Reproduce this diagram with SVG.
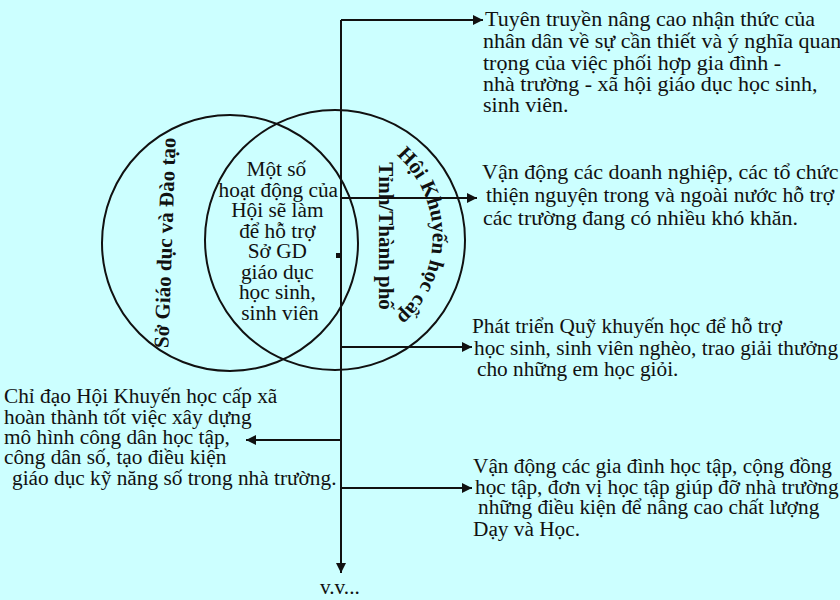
<svg xmlns="http://www.w3.org/2000/svg" width="840" height="600" viewBox="0 0 840 600">
<defs>
<style>
.t{font-family:"Liberation Serif","Times New Roman",serif;font-size:21.3px;fill:#111}
.big{font-size:22px}
.b{font-family:"Liberation Serif","Times New Roman",serif;font-size:21px;font-weight:bold;fill:#111}
.c{fill:none;stroke:#111;stroke-width:2}
.l{fill:none;stroke:#111;stroke-width:2}
</style>
<marker id="ah" viewBox="0 0 10 10" refX="10" refY="5" markerWidth="5" markerHeight="5" orient="auto" markerUnits="strokeWidth">
<path d="M0,0 L10,5 L0,10 z" fill="#111"/>
</marker>
<path id="arcR" d="M343.8,129.7 A108,108 0 0 1 343.8,342.3"/>
</defs>
<rect width="840" height="600" fill="#CCFFFF"/>

<g id="connectors">
<line class="l" x1="341" y1="20" x2="341" y2="573" marker-end="url(#ah)"/>
<polyline class="l" points="341,20 483,20" marker-end="url(#ah)"/>
<line class="l" x1="341" y1="198" x2="477" y2="198" marker-end="url(#ah)"/>
<line class="l" x1="341" y1="347" x2="472" y2="347" marker-end="url(#ah)"/>
<line class="l" x1="341" y1="440" x2="246" y2="440" marker-end="url(#ah)"/>
<line class="l" x1="341" y1="488" x2="472" y2="488" marker-end="url(#ah)"/>
<rect x="336" y="253" width="4" height="5" fill="#111"/>
</g>

<g id="circle-so-gd">
<circle class="c" cx="230" cy="243" r="128"/>
<text class="b" transform="translate(172,243) rotate(-88)" text-anchor="middle">Sở Giáo dục và Đào tạo</text>
</g>

<g id="circle-hoi-khuyen-hoc">
<circle class="c" cx="335" cy="240" r="130"/>
<text class="b"><textPath href="#arcR" startOffset="50%" text-anchor="middle">Hội Khuyến học cấp</textPath></text>
<text class="b" transform="translate(379,236) rotate(90)" text-anchor="middle">Tỉnh/Thành phố</text>
</g>

<g id="center-text">
<text class="t" text-anchor="middle">
<tspan x="279" y="176">Một số</tspan>
<tspan x="281" y="196.5">hoạt động của</tspan>
<tspan x="280" y="217">Hội sẽ làm</tspan>
<tspan x="280" y="237.5">để hỗ trợ</tspan>
<tspan x="280" y="258">Sở GD</tspan>
<tspan x="280" y="278.5">giáo dục</tspan>
<tspan x="280" y="299">học sinh,</tspan>
<tspan x="280" y="319.5">sinh viên</tspan>
</text>
</g>

<g id="node-tuyen-truyen">
<text class="t big">
<tspan x="485" y="26">Tuyên truyền nâng cao nhận thức của</tspan>
<tspan x="483" y="48">nhân dân về sự cần thiết và ý nghĩa quan</tspan>
<tspan x="483" y="70">trọng của việc phối hợp gia đình -</tspan>
<tspan x="483" y="91">nhà trường - xã hội giáo dục học sinh,</tspan>
<tspan x="483" y="112">sinh viên.</tspan>
</text>
</g>

<g id="node-van-dong-dn">
<text class="t big">
<tspan x="482" y="179">Vận động các doanh nghiệp, các tổ chức</tspan>
<tspan x="486" y="202" style="font-size:21.6px">thiện nguyện trong và ngoài nước hỗ trợ</tspan>
<tspan x="483" y="225">các trường đang có nhiều khó khăn.</tspan>
</text>
</g>

<g id="node-quy-khuyen-hoc">
<text class="t">
<tspan x="472" y="333">Phát triển Quỹ khuyến học để hỗ trợ</tspan>
<tspan x="474" y="355">học sinh, sinh viên nghèo, trao giải thưởng</tspan>
<tspan x="477" y="376">cho những em học giỏi.</tspan>
</text>
</g>

<g id="node-chi-dao">
<text class="t">
<tspan x="4" y="403">Chỉ đạo Hội Khuyến học cấp xã</tspan>
<tspan x="4" y="424">hoàn thành tốt việc xây dựng</tspan>
<tspan x="4" y="444">mô hình công dân học tập,</tspan>
<tspan x="4" y="464">công dân số, tạo điều kiện</tspan>
<tspan x="12" y="485">giáo dục kỹ năng số trong nhà trường.</tspan>
</text>
</g>

<g id="node-van-dong-gd">
<text class="t">
<tspan x="473" y="473">Vận động các gia đình học tập, cộng đồng</tspan>
<tspan x="475" y="494">học tập, đơn vị học tập giúp đỡ nhà trường</tspan>
<tspan x="478" y="514">những điều kiện để nâng cao chất lượng</tspan>
<tspan x="473" y="536">Dạy và Học.</tspan>
</text>
</g>

<g id="node-vv">
<text class="t" x="320" y="594">v.v...</text>
</g>
</svg>
